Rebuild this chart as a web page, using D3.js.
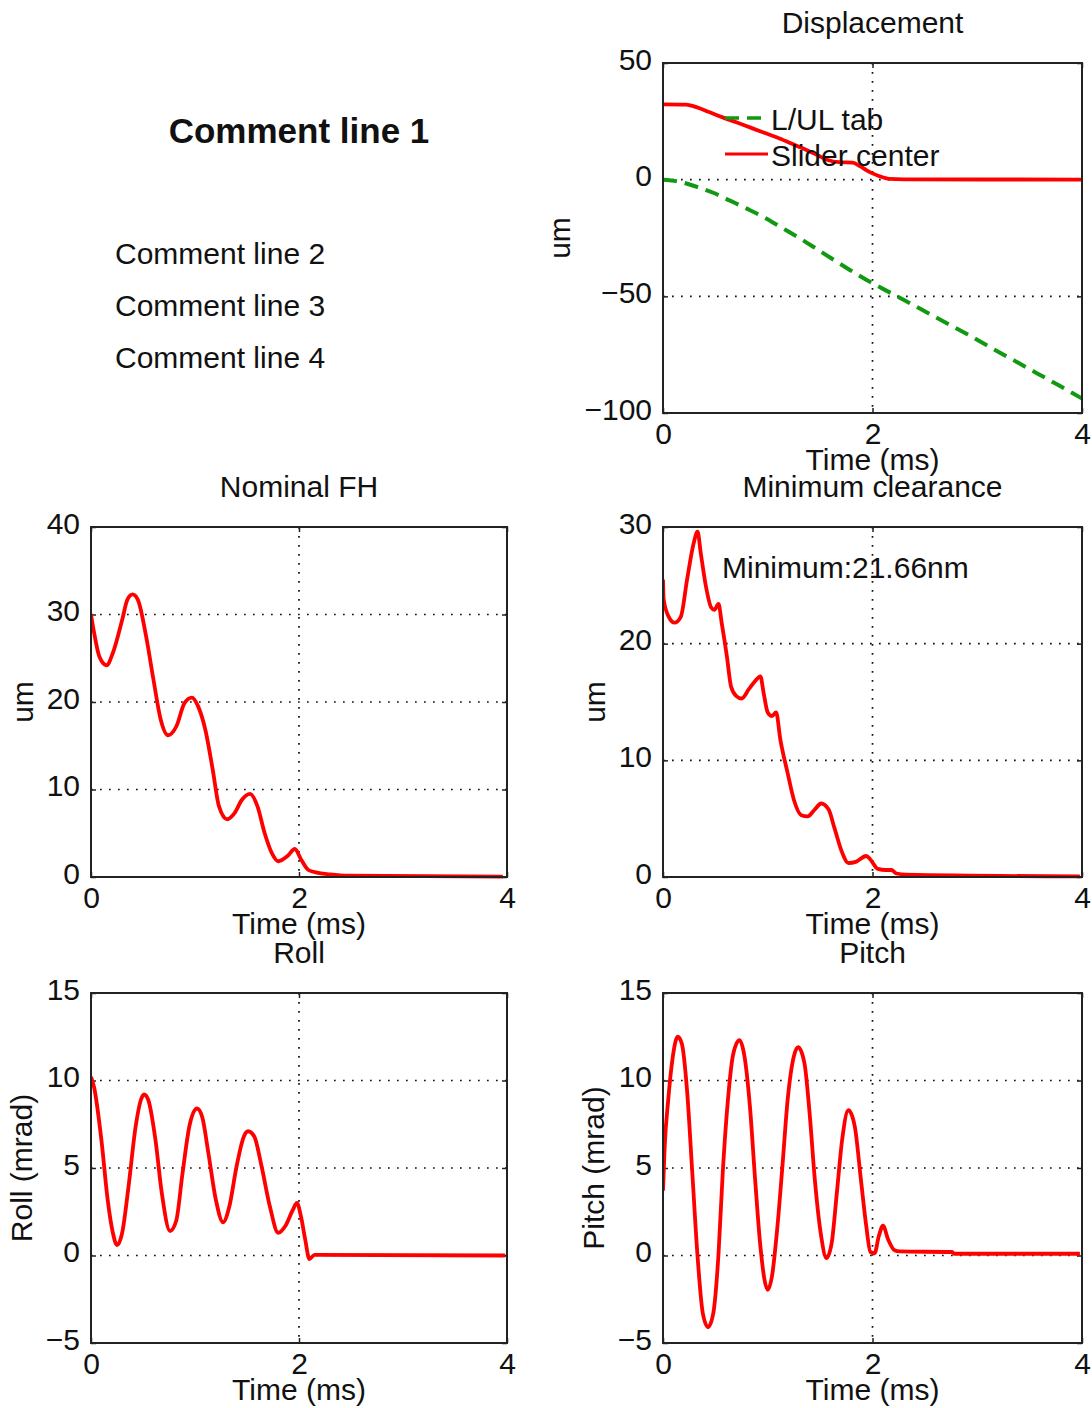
<!DOCTYPE html>
<html>
<head>
<meta charset="utf-8">
<script src="https://cdn.jsdelivr.net/npm/d3@7/dist/d3.min.js"></script>
<style>
  html, body { margin: 0; padding: 0; background: #fff; }
  svg { display: block; }
  text { font-family: "Liberation Sans", Arial, Helvetica, sans-serif; fill: #111; }
</style>
</head>
<body>
<svg id="chart" width="1092" height="1408"></svg>
<script>
// ---------------- DATA ----------------
const commentLines = ["Comment line 1", "Comment line 2", "Comment line 3", "Comment line 4"];
const xLabel = "Time (ms)";
const xTicks = [0, 2, 4];

const dispTicks = [-100, -50, 0, 50];
const fhTicks = [0, 10, 20, 30, 40];
const mcTicks = [0, 10, 20, 30];
const angleTicks = [-5, 0, 5, 10, 15];

const legendLabels = ["L/UL tab", "Slider center"];
const minClearanceNote = "Minimum:21.66nm";

// Displacement: L/UL tab (green dashed), [time ms, um]
const lulTab = [[0,0],[0.15,-0.8],[0.31,-2.9],[0.48,-5.6],[0.64,-9],[0.8,-12.4],[0.96,-16],[1.12,-20.2],
  [1.29,-24.7],[1.45,-29.2],[1.61,-33.8],[1.78,-38.6],[1.94,-42.9],[2.1,-46.8],[2.26,-50.6],[2.42,-54.5],
  [2.58,-58.4],[2.75,-62.5],[2.91,-66.4],[3.07,-70.4],[3.23,-74.5],[3.4,-78.7],[3.56,-82.7],[3.72,-86.7],
  [3.88,-90.7],[4,-93.8]];
// Displacement: Slider center (red)
const sliderCenter = [[0,32.3],[0.22,32.2],[0.31,31.2],[0.44,29],[0.57,26.7],[0.7,24.6],[0.83,22.4],[0.96,20.2],
  [1.09,18.1],[1.22,15.6],[1.35,13.1],[1.47,10.6],[1.58,8.3],[1.68,7.5],[1.81,7.3],[1.88,5.8],[1.94,4.1],
  [2.0,2.7],[2.06,1.6],[2.16,0.3],[2.3,0.1],[4,0.05]];

// Nominal FH (um)
const nominalFH = [[0,30],[0.03,27.9],[0.08,25.2],[0.15,24.2],[0.21,25.6],[0.3,29.4],[0.35,31.7],[0.4,32.3],
  [0.45,31.7],[0.53,27.5],[0.6,22.6],[0.67,18],[0.74,16.2],[0.82,17.2],[0.9,19.9],[0.97,20.5],[1.03,19.5],
  [1.1,16.8],[1.17,12.3],[1.23,8.1],[1.31,6.6],[1.38,7.3],[1.45,8.8],[1.53,9.5],[1.6,8.1],[1.67,5],
  [1.74,2.7],[1.8,1.8],[1.89,2.4],[1.96,3.2],[2.02,2],[2.09,0.8],[2.17,0.5],[2.3,0.3],[2.47,0.15],[3.96,0.05]];

// Minimum clearance (um)
const minClearance = [[0,25.5],[0.006,23.8],[0.055,22.3],[0.11,21.8],[0.17,22.3],[0.23,25.5],[0.29,28.5],
  [0.33,29.6],[0.36,27.8],[0.41,24.9],[0.46,23.1],[0.49,22.9],[0.53,23.4],[0.56,21.8],[0.61,18.9],[0.65,16.3],
  [0.7,15.5],[0.75,15.3],[0.82,16.1],[0.88,16.8],[0.93,17.2],[0.96,15.8],[1.0,14.1],[1.04,13.8],[1.08,14.1],
  [1.12,11.8],[1.19,8.9],[1.25,6.6],[1.32,5.3],[1.38,5.2],[1.45,5.8],[1.51,6.3],[1.58,5.8],[1.64,4.1],
  [1.71,2.1],[1.77,1.2],[1.84,1.3],[1.94,1.8],[1.98,1.5],[2.05,0.7],[2.13,0.6],[2.18,0.6],[2.23,0.3],
  [2.32,0.2],[3.98,0.05]];

// Roll (mrad)
const roll = [[0,10.2],[0.03,9.6],[0.1,6.6],[0.16,3.2],[0.21,1.3],[0.25,0.6],[0.3,1.3],[0.36,3.9],[0.43,7.4],
  [0.48,8.9],[0.51,9.2],[0.55,8.9],[0.62,6.6],[0.68,3.6],[0.76,1.4],[0.82,2.0],[0.88,4.7],[0.95,7.5],
  [1.02,8.4],[1.07,7.9],[1.13,5.8],[1.2,3.2],[1.27,1.9],[1.33,2.8],[1.4,5.1],[1.47,6.8],[1.51,7.1],
  [1.57,6.8],[1.64,5.1],[1.72,2.8],[1.8,1.3],[1.87,1.7],[1.94,2.6],[1.98,3.0],[2.02,2.2],[2.06,0.9],
  [2.1,-0.2],[2.15,0.04],[3.98,0]];

// Pitch (mrad)
const pitch = [[0,3.7],[0.016,6.2],[0.05,8.9],[0.09,11.2],[0.14,12.5],[0.18,12.1],[0.23,9.4],[0.28,4.7],
  [0.33,-0.06],[0.38,-3.3],[0.43,-4.1],[0.48,-3.3],[0.53,0.1],[0.57,4.7],[0.62,8.9],[0.67,11.5],[0.73,12.3],
  [0.78,11.3],[0.83,8.5],[0.88,4.3],[0.93,0.5],[1.0,-1.96],[1.04,-1.2],[1.09,1.5],[1.14,5.1],[1.19,8.9],
  [1.25,11.4],[1.29,11.9],[1.35,11.0],[1.4,8.1],[1.45,4.3],[1.51,1.1],[1.56,-0.15],[1.61,0.7],[1.66,3.6],
  [1.71,6.6],[1.77,8.3],[1.83,7.4],[1.89,4.3],[1.94,1.7],[1.98,0.2],[2.02,0.13],[2.06,1.1],[2.1,1.7],
  [2.15,0.9],[2.21,0.3],[2.26,0.23],[2.76,0.2],[2.78,0.1],[3.98,0.1]];

// ---------------- DRAW ----------------
const svg = d3.select("#chart");
const RED = "#ff0000", GREEN = "#119911";

// Comments
svg.append("text").attr("x", 299).attr("y", 143).attr("text-anchor", "middle")
  .style("font-weight", "bold").style("font-size", "35px").text(commentLines[0]);
[264, 316, 368].forEach((y, i) => {
  svg.append("text").attr("x", 115).attr("y", y).style("font-size", "30px").text(commentLines[i + 1]);
});

let clipId = 0;
function panel(cfg) {
  const x = d3.scaleLinear().domain([0, 4]).range([cfg.left, cfg.left + cfg.w]);
  const y = d3.scaleLinear().domain(cfg.domain).range([cfg.top + cfg.h, cfg.top]);
  const g = svg.append("g");

  // grid
  const gridY = cfg.ticks.filter(v => v !== cfg.domain[0] && v !== cfg.domain[1]);
  g.selectAll(".gy").data(gridY).enter().append("line")
    .attr("x1", cfg.left).attr("x2", cfg.left + cfg.w)
    .attr("y1", d => y(d)).attr("y2", d => y(d))
    .attr("stroke", "#111").attr("stroke-width", 1.7).attr("stroke-dasharray", "1.7,7.3");
  g.selectAll(".gx").data([2]).enter().append("line")
    .attr("y1", cfg.top).attr("y2", cfg.top + cfg.h)
    .attr("x1", d => x(d)).attr("x2", d => x(d))
    .attr("stroke", "#111").attr("stroke-width", 1.7).attr("stroke-dasharray", "1.7,7.3");

  // axes
  const fs = "30px";
  const left = g.append("g").attr("transform", `translate(${cfg.left},0)`)
    .call(d3.axisLeft(y).tickValues(cfg.ticks).tickSizeInner(-5).tickSizeOuter(0).tickPadding(11));
  left.selectAll("text").attr("dy", 6).style("font-size", fs).style("font-family", "Liberation Sans, Arial, sans-serif").attr("fill", "#111");
  const bottom = g.append("g").attr("transform", `translate(0,${cfg.top + cfg.h})`)
    .call(d3.axisBottom(x).tickValues(xTicks).tickSizeInner(-5).tickSizeOuter(0).tickPadding(10).tickFormat(d3.format("d")));
  bottom.selectAll("text").style("font-size", fs).style("font-family", "Liberation Sans, Arial, sans-serif").attr("fill", "#111");
  g.append("g").attr("transform", `translate(${cfg.left + cfg.w},0)`)
    .call(d3.axisRight(y).tickValues(cfg.ticks).tickSizeInner(-5).tickSizeOuter(0).tickFormat(""));
  g.append("g").attr("transform", `translate(0,${cfg.top})`)
    .call(d3.axisTop(x).tickValues(xTicks).tickSizeInner(-5).tickSizeOuter(0).tickFormat(""));
  g.selectAll(".domain").remove();
  g.selectAll(".tick line").attr("stroke", "#222").attr("stroke-width", 1.5);

  // clip
  const id = "clip" + (clipId++);
  svg.append("clipPath").attr("id", id).append("rect")
    .attr("x", cfg.left).attr("y", cfg.top - 2).attr("width", cfg.w).attr("height", cfg.h + 4);

  const line = d3.line().x(d => x(d[0])).y(d => y(d[1])).curve(d3.curveMonotoneX);
  cfg.series.forEach(s => {
    g.append("path").datum(s.data).attr("clip-path", `url(#${id})`)
      .attr("fill", "none").attr("stroke", s.color).attr("stroke-width", s.width || 3.8)
      .attr("stroke-dasharray", s.dash || null).attr("stroke-linejoin", "round").attr("d", line);
  });

  // box
  g.append("rect").attr("x", cfg.left).attr("y", cfg.top).attr("width", cfg.w).attr("height", cfg.h)
    .attr("fill", "none").attr("stroke", "#222").attr("stroke-width", 2);

  // titles
  svg.append("text").attr("x", cfg.left + cfg.w / 2).attr("y", cfg.top - 30).attr("text-anchor", "middle")
    .style("font-size", "30px").text(cfg.title);
  svg.append("text").attr("x", cfg.left + cfg.w / 2).attr("y", cfg.top + cfg.h + 57).attr("text-anchor", "middle")
    .style("font-size", "30px").text(xLabel);
  svg.append("text").attr("transform", `translate(${cfg.ylabelX},${cfg.top + cfg.h / 2}) rotate(-90)`)
    .attr("text-anchor", "middle").style("font-size", "30px").text(cfg.ylabel);
  return { x, y };
}

panel({ left: 663, top: 63, w: 419, h: 350, domain: [-100, 50], ticks: dispTicks,
  title: "Displacement", ylabel: "um", ylabelX: 570,
  series: [{ data: lulTab, color: GREEN, dash: "14,8", width: 4 }, { data: sliderCenter, color: RED }] });

// legend
const legend = svg.append("g");
legend.append("line").attr("x1", 725).attr("x2", 768).attr("y1", 118).attr("y2", 118)
  .attr("stroke", GREEN).attr("stroke-width", 3.5).attr("stroke-dasharray", "14,8");
legend.append("text").attr("x", 771).attr("y", 130).style("font-size", "30px").text(legendLabels[0]);
legend.append("line").attr("x1", 725).attr("x2", 768).attr("y1", 154).attr("y2", 154)
  .attr("stroke", RED).attr("stroke-width", 3);
legend.append("text").attr("x", 771).attr("y", 166).style("font-size", "30px").text(legendLabels[1]);

panel({ left: 91, top: 527, w: 416, h: 350, domain: [0, 40], ticks: fhTicks,
  title: "Nominal FH", ylabel: "um", ylabelX: 33, series: [{ data: nominalFH, color: RED }] });

panel({ left: 663, top: 527, w: 419, h: 350, domain: [0, 30], ticks: mcTicks,
  title: "Minimum clearance", ylabel: "um", ylabelX: 605, series: [{ data: minClearance, color: RED }] });
svg.append("text").attr("x", 722).attr("y", 578).style("font-size", "30px").text(minClearanceNote);

panel({ left: 91, top: 993, w: 416, h: 350, domain: [-5, 15], ticks: angleTicks,
  title: "Roll", ylabel: "Roll (mrad)", ylabelX: 32, series: [{ data: roll, color: RED }] });

panel({ left: 663, top: 993, w: 419, h: 350, domain: [-5, 15], ticks: angleTicks,
  title: "Pitch", ylabel: "Pitch (mrad)", ylabelX: 604, series: [{ data: pitch, color: RED }] });
</script>
</body>
</html>
